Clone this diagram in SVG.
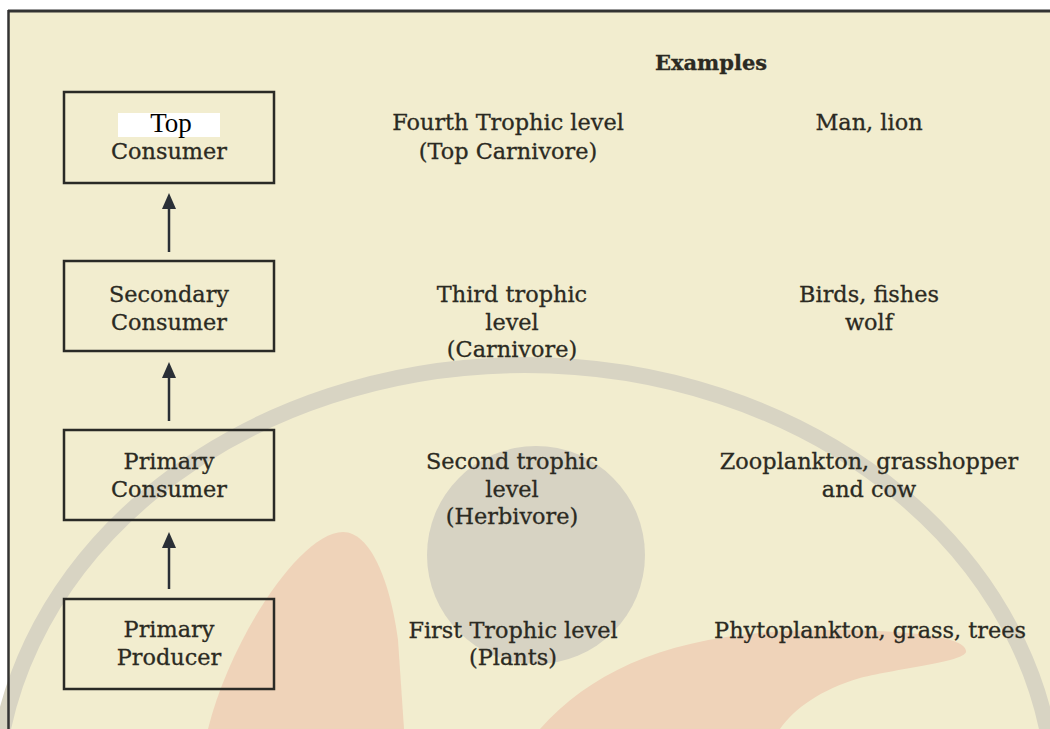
<svg xmlns="http://www.w3.org/2000/svg" width="1050" height="729" viewBox="0 0 1050 729">
<defs>
<style>
.t{font-family:"DejaVu Serif","Liberation Serif",serif;font-size:22.4px;fill:#2b2a22;stroke:#2b2a22;stroke-width:0.3;text-anchor:middle}
.b{font-weight:bold;font-size:21px}
.box{fill:none;stroke:#2a2a26;stroke-width:2.5}
.conn{stroke:#2a2f36;stroke-width:2.5;fill:none;marker-end:url(#ah)}
</style>
<marker id="ah" viewBox="0 0 16 14" markerWidth="16" markerHeight="14" refX="9" refY="7" orient="auto" markerUnits="userSpaceOnUse">
<path d="M0,0 L16,7 L0,14 Z" fill="#2a2f36"/>
</marker>
</defs>
<rect x="0" y="0" width="1050" height="729" fill="#ffffff"/>
<rect x="8" y="11" width="1042" height="718" fill="#f2edcf"/>
<g id="watermark">
<ellipse cx="525" cy="805" rx="530" ry="440" fill="none" stroke="#d8d4c3" stroke-width="16"/>
<circle cx="536" cy="555" r="109" fill="#d7d3c3"/>
<path d="M208,729 C230,640 300,532 343,532 C370,532 390,580 398,640 L404,729 Z" fill="#efd3b9"/>
<path d="M540,729 C600,662 690,628 840,630 C930,631 968,640 966,652 C963,662 900,668 860,678 C820,690 795,708 780,729 Z" fill="#efd3b9"/>
</g>
<line x1="8" y1="11" x2="1050" y2="11" stroke="#333" stroke-width="3"/>
<line x1="8.5" y1="10" x2="8.5" y2="729" stroke="#333" stroke-width="2.5"/>
<g id="connectors">
<line class="conn" x1="169" y1="252" x2="169" y2="200"/>
<line class="conn" x1="169" y1="421" x2="169" y2="369"/>
<line class="conn" x1="169" y1="589" x2="169" y2="539"/>
</g>
<g id="node-top">
<rect class="box" x="64" y="92" width="210" height="91"/>
<rect x="118" y="113" width="102" height="24" fill="#ffffff"/>
<text x="171" y="132" font-family="Liberation Serif, serif" font-size="27" fill="#000" text-anchor="middle">Top</text>
<text class="t" x="169" y="159">Consumer</text>
</g>
<g id="node-secondary">
<rect class="box" x="64" y="261" width="210" height="90"/>
<text class="t" x="169" y="302">Secondary</text>
<text class="t" x="169" y="330">Consumer</text>
</g>
<g id="node-primary-consumer">
<rect class="box" x="64" y="430" width="210" height="90"/>
<text class="t" x="169" y="469">Primary</text>
<text class="t" x="169" y="497">Consumer</text>
</g>
<g id="node-producer">
<rect class="box" x="64" y="599" width="210" height="90"/>
<text class="t" x="169" y="637">Primary</text>
<text class="t" x="169" y="665">Producer</text>
</g>
<g id="levels">
<text class="t b" x="711" y="70">Examples</text>
<text class="t" x="508" y="130">Fourth Trophic level</text>
<text class="t" x="508" y="159">(Top Carnivore)</text>
<text class="t" x="869" y="130">Man, lion</text>
<text class="t" x="512" y="302">Third trophic</text>
<text class="t" x="512" y="330">level</text>
<text class="t" x="512" y="357">(Carnivore)</text>
<text class="t" x="869" y="302">Birds, fishes</text>
<text class="t" x="869" y="330">wolf</text>
<text class="t" x="512" y="469">Second trophic</text>
<text class="t" x="512" y="497">level</text>
<text class="t" x="512" y="524">(Herbivore)</text>
<text class="t" x="869" y="469">Zooplankton, grasshopper</text>
<text class="t" x="869" y="497">and cow</text>
<text class="t" x="513" y="638">First Trophic level</text>
<text class="t" x="513" y="665">(Plants)</text>
<text class="t" x="870" y="638">Phytoplankton, grass, trees</text>
</g>
</svg>
